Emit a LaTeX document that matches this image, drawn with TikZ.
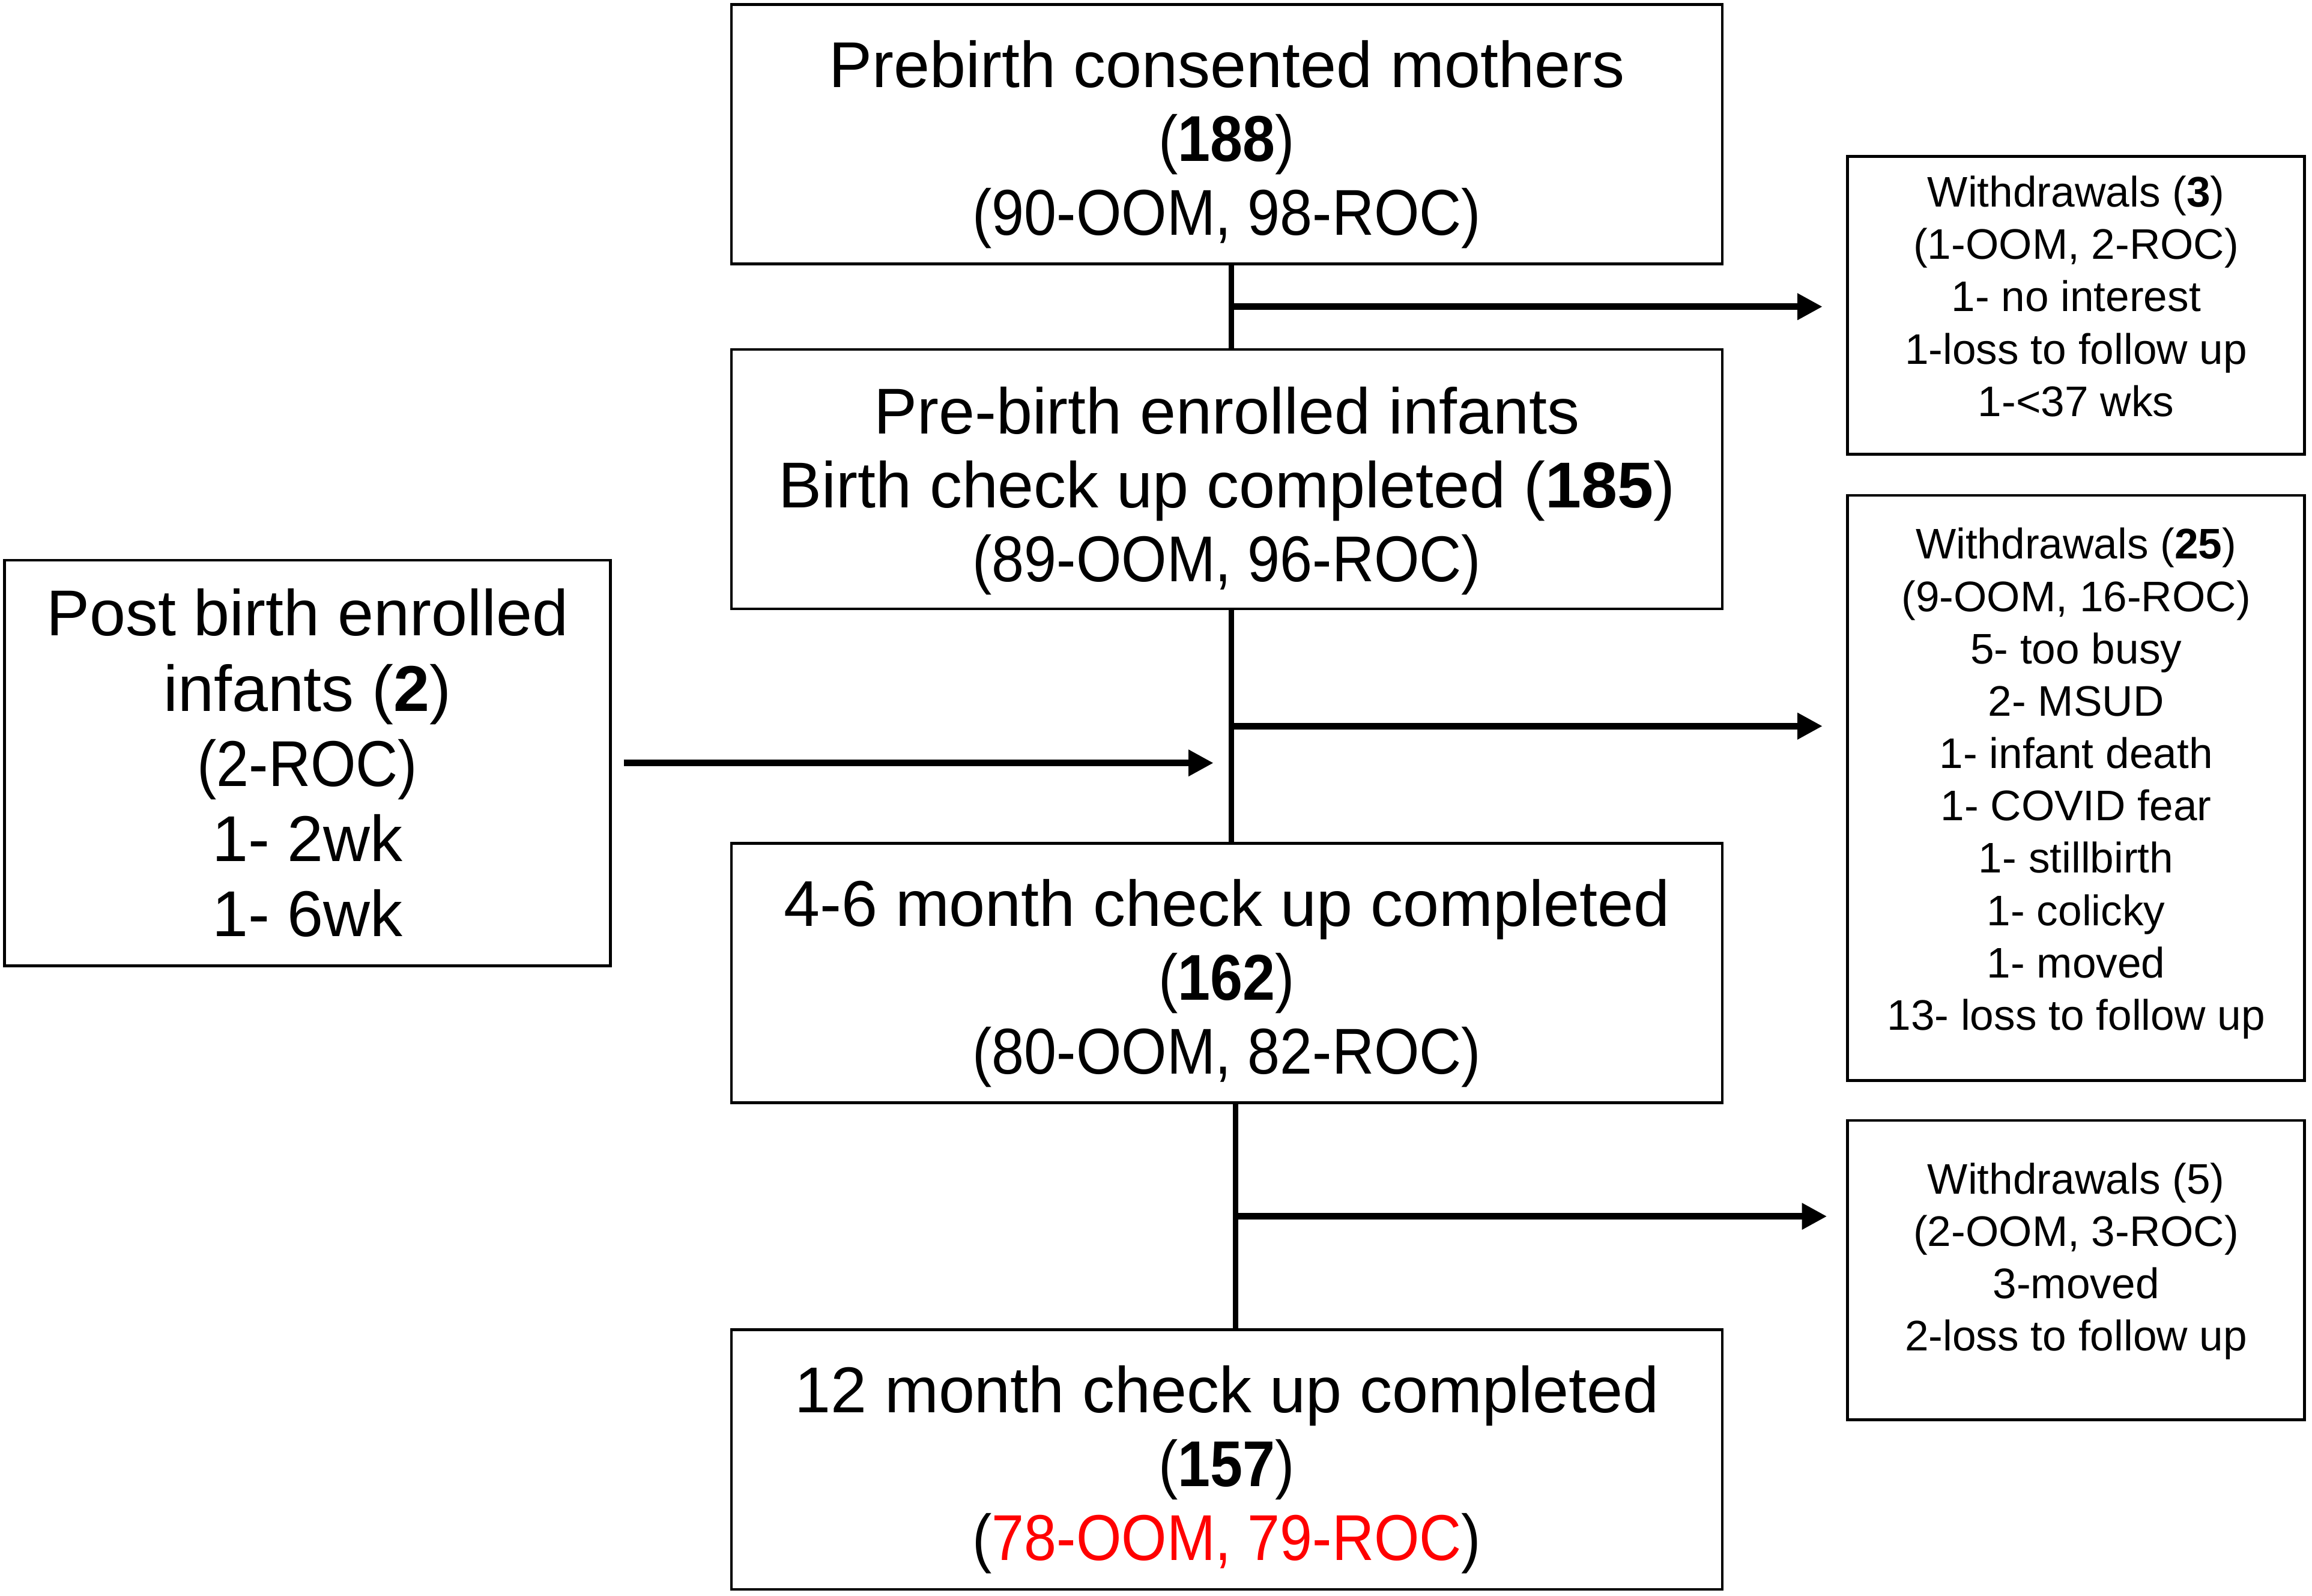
\documentclass[tikz,border=0pt]{standalone}
\usepackage{fontspec}
\usepackage{graphicx}
\setmainfont{Liberation Sans}
\usetikzlibrary{arrows.meta,calc}

\begin{document}
\begin{tikzpicture}[
    stage/.style={draw, line width=1.1pt, minimum width=13.44cm, minimum height=3.52cm, inner sep=0pt, align=center, font=\fontsize{25}{28.5}\selectfont},
    leave/.style={draw, line width=1.1pt, minimum width=6.2cm, inner sep=0pt, align=center, font=\fontsize{16.5}{20.2}\selectfont},
    trunk/.style={line width=2pt},
    flow/.style={line width=2.5pt, -{Triangle[length=0.34cm,width=0.34cm]}}
  ]
            \useasboundingbox (0,0) rectangle (31.36,-21.65);

            \node[stage] (mothers) at (16.64,-1.82) {\rule{0pt}{26pt}Prebirth consented mothers\\\scalebox{0.9}[1]{(\textbf{188})}\\\scalebox{0.9}[1]{(90-OOM, 98-ROC)}};
            \node[stage] (enrolled) at (16.64,-6.50) {\rule{0pt}{27pt}Pre-birth enrolled infants\\Birth check up completed (\textbf{185})\\\scalebox{0.9}[1]{(89-OOM, 96-ROC)}};
            \node[stage] (six) at (16.64,-13.20) {\rule{0pt}{26pt}4-6 month check up completed\\\scalebox{0.9}[1]{(\textbf{162})}\\\scalebox{0.9}[1]{(80-OOM, 82-ROC)}};
            \node[stage] (twelve) at (16.64,-19.80) {\rule{0pt}{26pt}12 month check up completed\\\scalebox{0.9}[1]{(\textbf{157})}\\\scalebox{0.9}[1]{(\textcolor{red}{78-OOM, 79-ROC})}};

            \node[leave, minimum height=4.04cm] (out1) at (28.16,-4.14) {Withdrawals (\textbf{3})\\(1-OOM, 2-ROC)\\1- no interest\\1-loss to follow up\\1-<37 wks\rule[-7pt]{0pt}{7pt}};
            \node[leave, minimum height=7.94cm] (out2) at (28.16,-10.69) {Withdrawals (\textbf{25})\\(9-OOM, 16-ROC)\\5- too busy\\2- MSUD\\1- infant death\\1- COVID fear\\1- stillbirth\\1- colicky\\1- moved\\13- loss to follow up\rule[-7pt]{0pt}{7pt}};
            \node[leave, minimum height=4.06cm] (out3) at (28.16,-17.23) {Withdrawals (5)\\(2-OOM, 3-ROC)\\3-moved\\2-loss to follow up\rule[-10.3pt]{0pt}{10.3pt}};

            \node[draw, line width=1.1pt, minimum width=8.22cm, minimum height=5.5cm, inner sep=0pt, align=center, font=\fontsize{25}{29}\selectfont] (late) at (4.17,-10.35) {Post birth enrolled\\infants (\textbf{2})\\\scalebox{0.9}[1]{(2-ROC)}\\1- 2wk\\1- 6wk};

            \draw[trunk] ([xshift=0.06cm]mothers.south) -- ([xshift=0.06cm]enrolled.north);
            \draw[trunk] ([xshift=0.06cm]enrolled.south) -- ([xshift=0.06cm]six.north);
            \draw[trunk] ([xshift=0.12cm]six.south) -- ([xshift=0.12cm]twelve.north);

            \coordinate (split1) at ($(mothers.south)!0.5!(enrolled.north)+(0.06,0)$);
            \coordinate (split2) at ($(enrolled.south)!0.5!(six.north)+(0.06,0)$);
            \coordinate (split3) at ($(six.south)!0.5!(twelve.north)+(0.12,0)$);

            \draw[flow, shorten >=0.32cm] (split1) -- (split1 -| out1.west);
            \draw[flow, shorten >=0.32cm] (split2) -- (split2 -| out2.west);
            \draw[flow, shorten >=0.26cm] (split3) -- (split3 -| out3.west);
            \draw[flow, shorten <=0.16cm, shorten >=0.24cm] (late.east) -- (late.east -| split2);

\end{tikzpicture}
\end{document}
